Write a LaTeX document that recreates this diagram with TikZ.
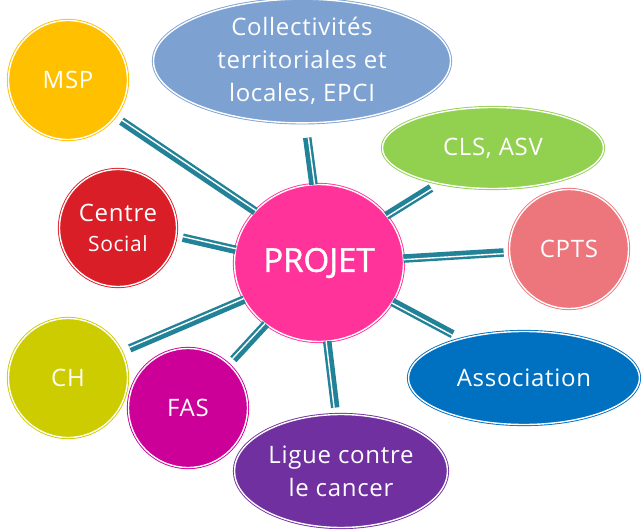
\documentclass[tikz,border=0pt]{standalone}
\usepackage{fontspec}
\setmainfont{Open Sans}
\newfontfamily\satfont{Open Sans}[LetterSpace=3]
\newfontfamily\prjfont{Open Sans}[FakeBold=1.2]
\usetikzlibrary{shapes.geometric,calc}
\definecolor{linkc}{RGB}{33,130,152}
\definecolor{cMSP}{HTML}{FFC000}
\definecolor{cCS}{HTML}{DA1E28}
\definecolor{cCOL}{HTML}{7DA2D2}
\definecolor{cCLS}{HTML}{92D050}
\definecolor{cCPTS}{HTML}{ED767C}
\definecolor{cASSO}{HTML}{0070C0}
\definecolor{cCH}{HTML}{CCCC00}
\definecolor{cFAS}{HTML}{CC0099}
\definecolor{cLIG}{HTML}{7030A0}
\definecolor{cPRJ}{HTML}{FF3399}
\tikzset{
  bubble/.style={ellipse, draw=#1, fill=#1, line width=0.9pt, double=white,
    double distance=1.4pt, inner sep=0pt, outer sep=0pt, text=white,
    align=center, font=\satfont\fontsize{24}{33}\selectfont},
  linkthick/.style={draw=linkc, line width=8.5pt},
  linkgap/.style={draw=white, line width=1.4pt},
}
\newcommand{\linkup}[3]{%
  \draw[linkthick] (#1) -- ($(#2)!#3!(#1)$);
  \draw[linkgap] ($(#1)!1.1pt!-90:(#2)$) -- ($($(#2)!#3!(#1)$)!1.1pt!90:(#1)$);
}
\begin{document}
\begin{tikzpicture}[x=1pt,y=-1pt]
\useasboundingbox (0,0) rectangle (641,530);
% satellites
\node[bubble=cMSP, minimum width=119pt, minimum height=119pt] (msp) at (68,80) {MSP};
\node[bubble=cCS, minimum width=117pt, minimum height=117pt] (cs) at (118,228)
  {Centre\\[-3pt]{\fontsize{21}{28}\selectfont Social}};
\node[bubble=cCOL, minimum width=297pt, minimum height=113pt] (col) at (302,61)
  {Collectivités\\territoriales et\\locales, EPCI};
\node[bubble=cCLS, minimum width=221pt, minimum height=81pt] (cls) at (493,148) {CLS, ASV};
\node[bubble=cCPTS, minimum width=119pt, minimum height=119pt] (cpts) at (569,249) {CPTS};
\node[bubble=cASSO, minimum width=231pt, minimum height=93pt] (asso) at (524,378) {Association};
\node[bubble=cCH, minimum width=119pt, minimum height=119pt] (ch) at (68,378) {CH};
\node[bubble=cFAS, minimum width=119pt, minimum height=119pt] (fas) at (188,408) {FAS};
\node[bubble=cLIG, minimum width=213pt, minimum height=113pt] (lig) at (341,471)
  {Ligue contre\\le cancer};
% center
\node[bubble=cPRJ, minimum width=169pt, minimum height=157pt,
  font=\prjfont\fontsize{33}{40}\selectfont] (prj) at (319,263) {PROJET};
% connectors
\linkup{prj.141}{msp.-38}{8pt}
\linkup{prj.94}{col.-87}{15pt}
\linkup{prj.35}{cls.-147}{9pt}
\linkup{prj.3}{cpts.-177}{6pt}
\linkup{prj.-28}{asso.148}{10pt}
\linkup{prj.-84}{lig.95}{7pt}
\linkup{prj.-131}{fas.47}{7pt}
\linkup{prj.-154}{ch.26}{9pt}
\linkup{prj.171}{cs.-8}{7pt}
\end{tikzpicture}
\end{document}
